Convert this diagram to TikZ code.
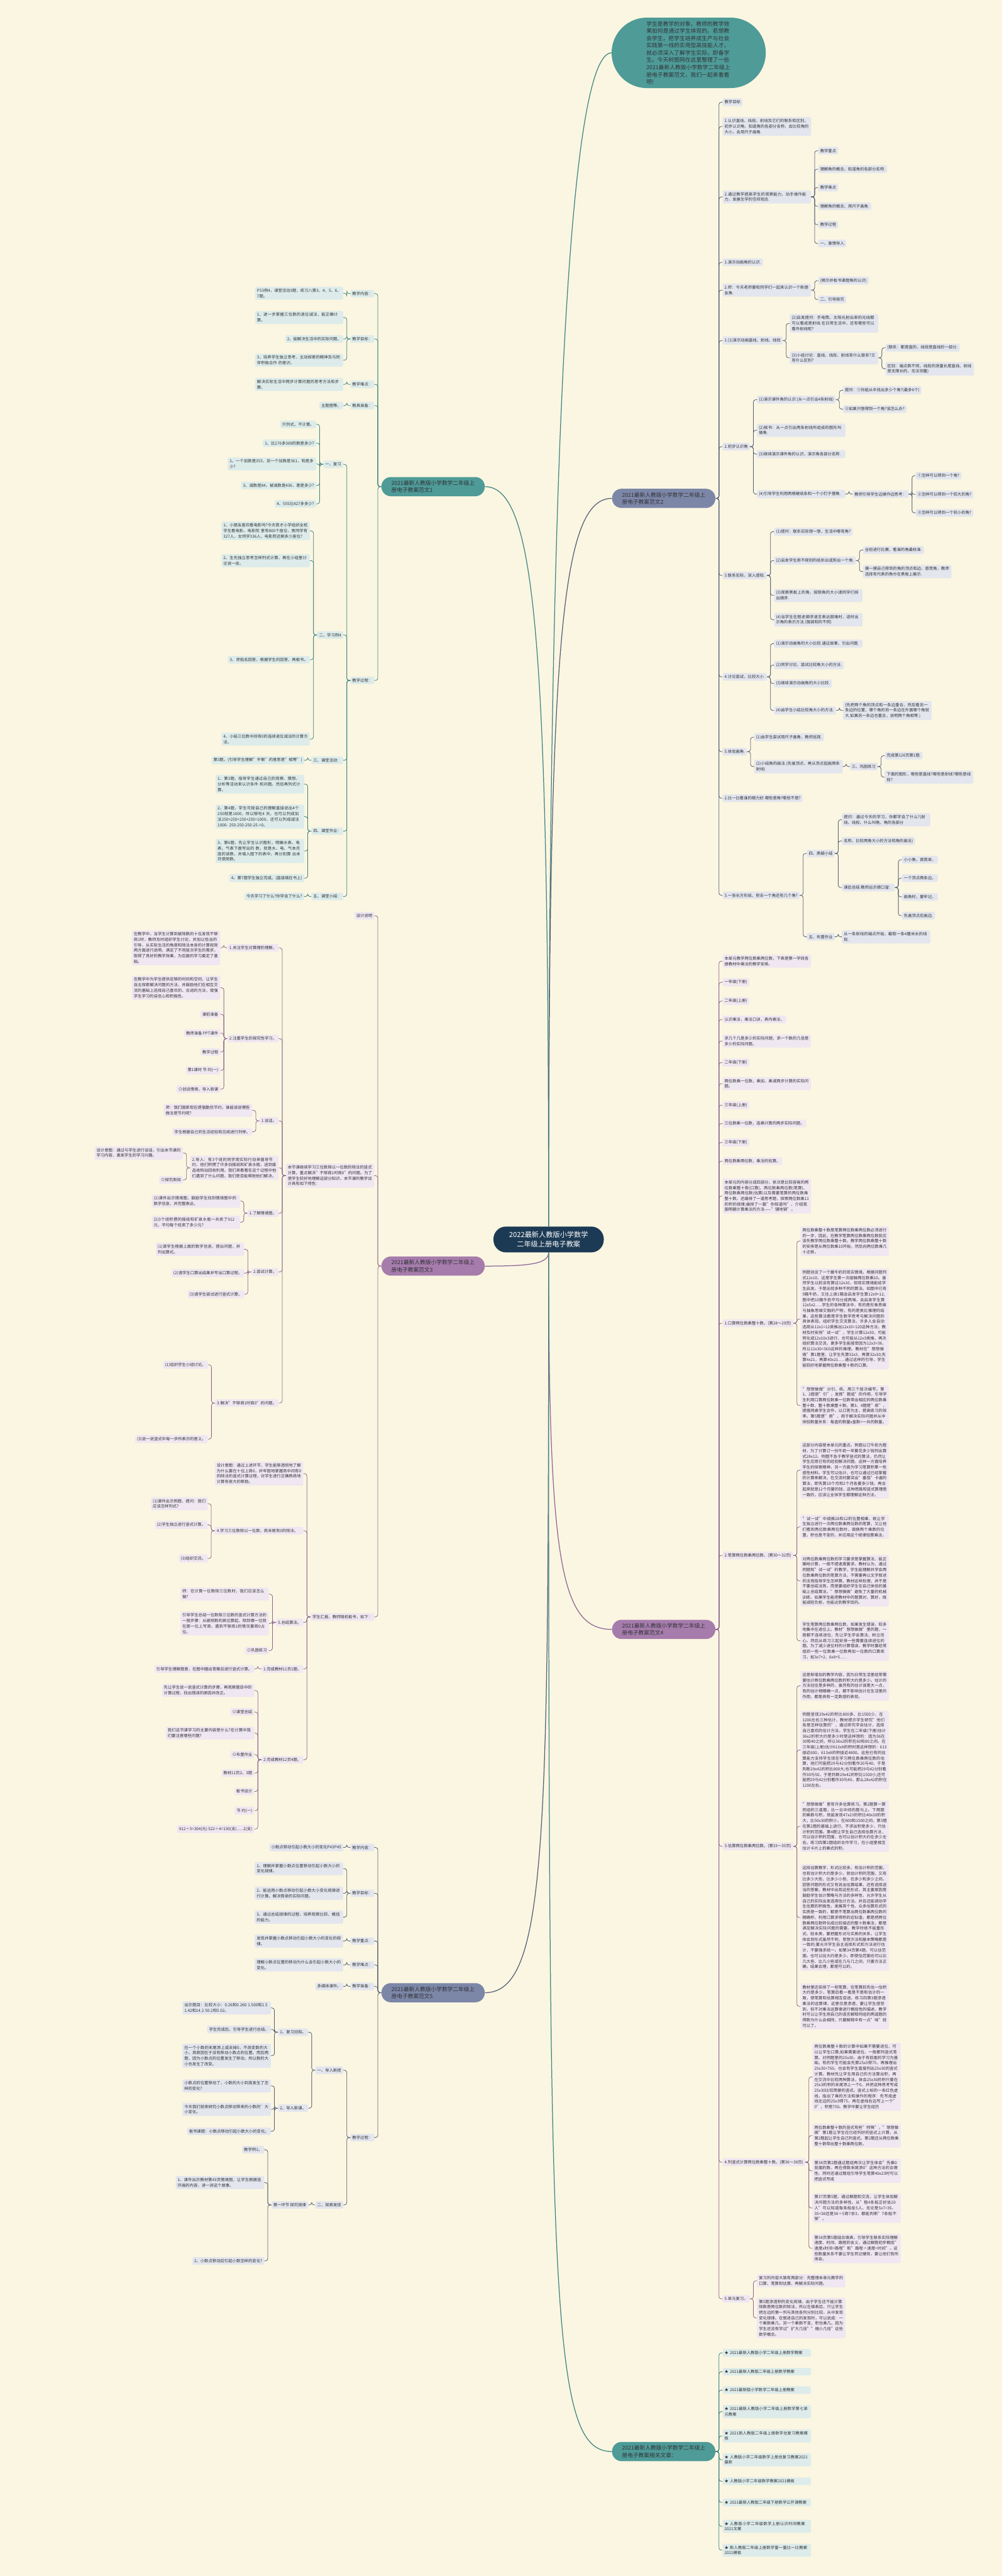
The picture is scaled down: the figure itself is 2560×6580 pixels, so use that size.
\documentclass[tikz,border=0pt]{standalone}
\usepackage{fontspec}
\setmainfont{Noto Sans CJK SC}
\usetikzlibrary{calc}
\XeTeXlinebreaklocale "zh"
\XeTeXlinebreakskip=0pt plus 1pt
\definecolor{bg}{RGB}{251,246,225}
\definecolor{cnav}{RGB}{28,58,84}
\definecolor{tealF}{RGB}{78,155,152}
\definecolor{tealL}{RGB}{221,236,234}
\definecolor{tealC}{RGB}{62,132,130}
\definecolor{slateF}{RGB}{124,135,168}
\definecolor{slateL}{RGB}{227,230,238}
\definecolor{slateC}{RGB}{84,94,118}
\definecolor{purF}{RGB}{166,124,172}
\definecolor{purL}{RGB}{239,231,241}
\definecolor{purC}{RGB}{140,102,148}
\definecolor{txt}{RGB}{50,50,55}
\newcommand\lfnt{\fontsize{10.2pt}{14pt}\selectfont}
\newcommand\addR[6]{\node[leaf#1,anchor=west,#2] (#4) at ($(#3.east|-0,#5)+(18,0)$) {#6};
  \draw[line#1] (#3.east) -- ++(9,0) |- (#4.west);}
\newcommand\addL[6]{\node[leaf#1,anchor=east,#2] (#4) at ($(#3.west|-0,#5)+(-18,0)$) {#6};
  \draw[line#1] (#3.west) -- ++(-9,0) |- (#4.east);}
\begin{document}
\begin{tikzpicture}[x=1pt,y=-1pt,
  leafbase/.style={rounded corners=4pt,inner xsep=5pt,inner ysep=5pt,align=left,font=\lfnt,text=txt},
  leafT/.style={leafbase,fill=tealL},
  leafS/.style={leafbase,fill=slateL},
  leafP/.style={leafbase,fill=purL},
  lineT/.style={draw=tealC,line width=1.3pt,rounded corners=6pt},
  lineS/.style={draw=slateC,line width=1.3pt,rounded corners=6pt},
  lineP/.style={draw=purC,line width=1.3pt,rounded corners=6pt},
  mainT/.style={draw=tealC,line width=2pt},
  mainS/.style={draw=slateC,line width=2pt},
  mainP/.style={draw=purC,line width=2pt},
  brbase/.style={rounded corners=24pt,minimum height=49pt,minimum width=264pt,inner xsep=25pt,align=left,font=\fontsize{14pt}{18pt}\selectfont,text=txt},
  branchT/.style={brbase,fill=tealF},
  branchS/.style={brbase,fill=slateF},
  branchP/.style={brbase,fill=purF}]
\fill[bg] (0,0) rectangle (2560,6580);
\useasboundingbox (0,0) rectangle (2560,6580);

% centre and intro
\node[fill=cnav,text=white,rounded corners=32pt,minimum width=282pt,minimum height=66pt,align=center,font=\fontsize{18pt}{23pt}\selectfont] (c) at (1402,3166) {2022最新人教版小学数学\\二年级上册电子教案};
\node[fill=tealF,text=txt,rounded corners=90pt,minimum height=180pt,inner xsep=89pt,text width=216pt,align=left,font=\fontsize{14pt}{18.5pt}\selectfont] (intro) at (1760,135) {学生是教学的对象，教师的教学效果如何是通过学生体现的。若想教会学生，把学生培养成生产与社会实践第一线的实用型高技能人才，就必须深入了解学生实际，即备学生。今天树图网在这里整理了一些2021最新人教版小学数学二年级上册电子教案范文，我们一起来看看吧!};

% branches
\node[branchT,anchor=east] (b1) at (1239,1243) {2021最新人教版小学数学二年级上\\册电子教案范文1};
\node[branchS,anchor=west] (b2) at (1564,1273) {2021最新人教版小学数学二年级上\\册电子教案范文2};
\node[branchP,anchor=east] (b3) at (1239,3234) {2021最新人教版小学数学二年级上\\册电子教案范文3};
\node[branchP,anchor=west] (b4) at (1564,4162) {2021最新人教版小学数学二年级上\\册电子教案范文4};
\node[branchS,anchor=east] (b5) at (1239,5090) {2021最新人教版小学数学二年级上\\册电子教案范文5};
\node[branchT,anchor=west] (r) at (1564,6262) {2021最新人教版小学数学二年级上\\册电子教案相关文章：};

\draw[mainT] (c.north) .. controls +(0,-2300) and +(-90,0) .. (intro.west);
\draw[mainS] (c.north) .. controls +(0,-1500) and +(-130,0) .. (b2.west);
\draw[mainT] (c.north) .. controls +(0,-1500) and +(130,0) .. (b1.east);
\draw[mainP] (c.south) .. controls +(0,30) and +(110,0) .. (b3.east);
\draw[mainP] (c.south) .. controls +(0,800) and +(-130,0) .. (b4.west);
\draw[mainS] (c.south) .. controls +(0,1500) and +(160,0) .. (b5.east);
\draw[mainT] (c.south) .. controls +(0,2700) and +(-160,0) .. (r.west);

% ---------- branch 2 ----------
\addR{S}{}{b2}{b2a}{261}{教学目标}
\addR{S}{text width=216pt}{b2}{b2b}{323}{1.认识直线、线段、射线及它们的联系和区别、初步认识角，知道角的各部分名称，会比较角的大小，会用尺子画角.}
\addR{S}{text width=216pt}{b2}{b2c}{503}{2.通过教学提高学生的观察能力、动手操作能力，发展生学的空间观念.}
\addR{S}{}{b2c}{b2c1}{385}{教学重点}
\addR{S}{}{b2c}{b2c2}{432}{理解角的概念，知道角的各部分名称.}
\addR{S}{}{b2c}{b2c3}{479}{教学难点}
\addR{S}{}{b2c}{b2c4}{527}{理解角的概念、用尺子画角.}
\addR{S}{}{b2c}{b2c5}{574}{教学过程}
\addR{S}{}{b2c}{b2c6}{622}{一、激情导入}
\addR{S}{}{b2}{b2d}{670}{1.演示动画角的认识.}
\addR{S}{text width=216pt}{b2}{b2e}{741}{2.师：今天老师要和同学们一起来认识一个新朋友角.}
\addR{S}{}{b2e}{b2e1}{717}{(揭示并板书课题角的认识)}
\addR{S}{}{b2e}{b2e2}{765}{二、引导探究}
\addR{S}{}{b2}{b2f}{870}{1.(1)演示动画直线、射线、线段}
\addR{S}{text width=216pt}{b2f}{b2f1}{826}{(2)启发提问：手电筒、太阳光射出来的光线都可以看成是射线.在日常生活中，还有哪些可以看作射线呢?}
\addR{S}{text width=216pt}{b2f}{b2f2}{914}{(3)小组讨论：直线、线段、射线有什么联系?又有什么区别?}
\addR{S}{}{b2f2}{b2f2a}{888}{(联系：都是直的，线段是直线的一部分.}
\addR{S}{text width=216pt}{b2f2}{b2f2b}{942}{区别：端点数不同，线段的测量长度直线、射线是无限长的，无法测量)}
\addR{S}{}{b2}{b2g}{1141}{2.初步认识角}
\addR{S}{}{b2g}{b2g1}{1021}{(1)演示课件角的认识.(从一点引出4条射线)}
\addR{S}{}{b2g1}{b2g1a}{997}{提问：①你能从中找出多少个角?(最多6个)}
\addR{S}{}{b2g1}{b2g1b}{1045}{②如果只想得到一个角?该怎么办?}
\addR{S}{text width=216pt}{b2g}{b2g2}{1099}{(2)板书：从一点引出两条射线所组成的图形叫做角.}
\addR{S}{text width=216pt}{b2g}{b2g3}{1160}{(3)继续演示课件角的认识，演示角各部分名称.}
\addR{S}{text width=216pt}{b2g}{b2g4}{1262}{(4)引导学生利用两根硬纸条和一个小钉子摆角.}
\addR{S}{}{b2g4}{b2g4a}{1262}{教师引导学生边操作边思考：}
\addR{S}{}{b2g4a}{b2g4a1}{1215}{①怎样可以得到一个角?}
\addR{S}{}{b2g4a}{b2g4a2}{1263}{②怎样可以得到一个较大的角?}
\addR{S}{}{b2g4a}{b2g4a3}{1310}{③怎样可以得到一个较小的角?}
\addR{S}{}{b2}{b2h}{1470}{3.联系实际，深入感知.}
\addR{S}{}{b2h}{b2h1}{1358}{(1)提问：联系实际想一想，生活中哪有角?}
\addR{S}{}{b2h}{b2h2}{1432}{(2)启发学生用不规则的纸折出或剪出一个角.}
\addR{S}{}{b2h2}{b2h2a}{1405}{全班进行比赛，看谁的角最标准.}
\addR{S}{text width=216pt}{b2h2}{b2h2b}{1460}{摸一摸自己得到的角的顶点和边、感受角，教师选择有代表的角巾在黑板上展示.}
\addR{S}{text width=216pt}{b2h}{b2h3}{1521}{(3)观察黑板上的角，按照角的大小请同学们排出顺序.}
\addR{S}{text width=216pt}{b2h}{b2h4}{1583}{(4)当学生在叙述顺序语言表达困难时，适时出示角的表示方法.(强调和的不同)}
\addR{S}{}{b2}{b2i}{1729}{4.讨论尝试，比较大小.}
\addR{S}{text width=216pt}{b2i}{b2i1}{1644}{(1)演示动画角的大小比较.通过故事，引出问题.}
\addR{S}{}{b2i}{b2i2}{1699}{(2)同学讨论、尝试比较角大小的方法.}
\addR{S}{}{b2i}{b2i3}{1746}{(3)继续演示动画角的大小比较.}
\addR{S}{}{b2i}{b2i4}{1815}{(4)由学生小结比较角大小的方法.}
\addR{S}{text width=216pt}{b2i4}{b2i4a}{1815}{(先把两个角的顶点和一条边重合，然后看另一条边的位置，哪个角的另一条边在外面哪个角就大.如果另一条边也重合，说明两个角相等.)}
\addR{S}{}{b2}{b2j}{1920}{5.体验画角.}
\addR{S}{}{b2j}{b2j1}{1883}{(1)由学生尝试用尺子画角，教师巡视.}
\addR{S}{text width=216pt}{b2j}{b2j2}{1958}{(2)小结角的画法.(先画顶点，再从顶点起画两条射线)}
\addR{S}{}{b2j2}{b2j2a}{1958}{三、巩固练习}
\addR{S}{}{b2j2a}{b2j2a1}{1930}{完成第126页第1题.}
\addR{S}{text width=216pt}{b2j2a}{b2j2a2}{1985}{下面的图形，哪些是直线?哪些是射线?哪些是线段?}
\addR{S}{}{b2}{b2k}{2039}{2.比一比看谁的眼力好.哪些是角?哪些不是?}
\addR{S}{}{b2}{b2l}{2287}{3.一张长方形纸、剪去一个角还有几个角?}
\addR{S}{}{b2l}{b2l1}{2180}{四、质疑小结}
\addR{S}{text width=216pt}{b2l1}{b2l1a}{2094}{提问：通过今天的学习，你都学会了什么?(射线、线段、什么叫角，角的各部分}
\addR{S}{}{b2l1}{b2l1b}{2148}{名称、比较两角大小的方法和角的画法)}
\addR{S}{}{b2l1}{b2l1c}{2267}{课后总结.教师出示顺口溜：}
\addR{S}{}{b2l1c}{b2l1c1}{2196}{小小角，真简单，}
\addR{S}{}{b2l1c}{b2l1c2}{2243}{一个顶点两条边，}
\addR{S}{}{b2l1c}{b2l1c3}{2291}{画角时，要牢记，}
\addR{S}{}{b2l1c}{b2l1c4}{2339}{先画顶点后画边.}
\addR{S}{}{b2l}{b2l2}{2393}{五、布置作业}
\addR{S}{text width=216pt}{b2l2}{b2l2a}{2393}{从一条射线的端点开始，截取一条4厘米长的线段.}

% ---------- branch 4 ----------
\addR{P}{text width=216pt}{b4}{b4a}{2455}{本单元教学两位数乘两位数，下表是第一学段各册教材中乘法的教学安排。}
\addR{P}{}{b4}{b4b}{2509}{一年级(下册)}
\addR{P}{}{b4}{b4c}{2557}{二年级(上册)}
\addR{P}{}{b4}{b4d}{2604}{认识乘法，乘法口诀，表内乘法。}
\addR{P}{text width=216pt}{b4}{b4e}{2659}{求几个几是多少的实际问题，求一个数的几倍是多少的实际问题。}
\addR{P}{}{b4}{b4f}{2714}{二年级(下册)}
\addR{P}{text width=216pt}{b4}{b4g}{2768}{两位数乘一位数，乘加、乘减两步计算的实际问题。}
\addR{P}{}{b4}{b4h}{2823}{三年级(上册)}
\addR{P}{}{b4}{b4i}{2870}{三位数乘一位数，连乘计算的两步实际问题。}
\addR{P}{}{b4}{b4j}{2918}{三年级(下册)}
\addR{P}{}{b4}{b4k}{2966}{两位数乘两位数，乘法的验算。}
\addR{P}{text width=216pt}{b4}{b4l}{3055}{本单元的内容分成四部分，依次是比较容易的两位数乘整十数(口算)、两位数乘两位数(笔算)、两位数乘两位数(估算)以及需要笔算的两位数乘整十数。还编排了一道思考题，探索两位数乘11的积的规律;编排了一篇"你知道吗"，介绍我国明朝计算乘法的方法——"铺地锦"。}
\addR{P}{}{b4}{b4m}{3380}{1.口算两位数乘整十数。(第28～29页)}
\addR{P}{text width=216pt}{b4m}{b4m1}{3170}{两位数乘整十数是笔算两位数乘两位数必须进行的一步，因此，在教学笔算两位数乘两位数前应该先教学两位数乘整十数。教学两位数乘整十数的安排是从两位数乘10开始，然后向两位数乘几十迁移。}
\addR{P}{text width=216pt}{b4m}{b4m2}{3369}{例题创设了一个搬牛奶的现实情境，根据问题列式12x10，这是学生第一次接触两位数乘10。虽然学生以前没有算过12x10，但现实情境能给学生启发，于是出现多种不同的算法。如图中已有9箱牛奶，又往上放1箱会启发学生算12x9+12;图中把10箱牛奶平均分成两堆，会启发学生算12x5x2......学生的各种算法中，有的是形象思维与抽象思维交融的产物，有的是类比推理的结果，这些算法都是学生数学思考与解决问题的具体表现。组织学生交流算法，许多人会自动选用从12x1=12类推出12x10=120这种方法。教材及时安排"试一试"，学生计算12x30，可能转化成12x10x3进行，也可能从12x3类推，再次组织算法交流，更多学生能接受因为12x3=36，所以12x30=360这样的推理。教材在"想想做做"第1题里，让学生先算32x3，再算32x30;先算4x21，再算40x21......通过这样的引导，学生能较好地掌握两位数乘整十数的口算。}
\addR{P}{text width=216pt}{b4m}{b4m3}{3590}{"想想做做"分引、练、用三个层次编写。第1、2题是"引"，发挥"题组"的作用，引导学生利用口算两位数乘一位数带出相应的两位数乘整十数、整十数乘整十数。第3、4题是"练"，提倡同桌学生合作，以口答为主，提高练习的效率。第5题是"用"，用于解决实际问题并从中体验数量关系：每盒的数量x盒数=一共的数量。}
\addR{P}{}{b4}{b4n}{3973}{2.笔算两位数乘两位数。(第30～32页)}
\addR{P}{text width=216pt}{b4n}{b4n1}{3755}{这部分内容是本单元的重点。例题以订牛奶为题材，为了计算订一份牛奶一年要花多少钱列出算式28x12。例题不急于教学竖式的算法，仍然让学生应用已有的经验解决问题。这样一方面培养学生的探索精神，另一方面为学习笔算积累一些感性材料。学生可以估计，也可以通过已经掌握的计算来解决。在交流时要突出"番茄"卡通的算法，即先算10个月和2个月各要多少钱，再合起来就是12个月要的钱，这种思路和竖式算理是一致的，应该让全体学生都理解这种方法。}
\addR{P}{text width=216pt}{b4n}{b4n2}{3900}{"试一试"中调换28和12的位置相乘，既让学生独立进行一次两位数乘两位数的笔算，又让他们看到两位数乘两位数时，调换两个乘数的位置，积也是不变的，并应用这个规律验算乘法。}
\addR{P}{text width=216pt}{b4n}{b4n3}{4038}{对两位数乘两位数的学习要求是掌握算法，能正确地计算，一般不提速度要求。教材认为，通过例题和"试一试"的教学，学生能理解并学会两位数乘两位数的笔算方法，不需要再以文字叙述的法则指导学生怎样算。教材这样处理，并不是不要总结法则，而是要组织学生在自己体验的基础上总结算法。"想想做做"避免了大量的机械训练，如果学生能把教材中的题算对、算好，既能减轻负担，也能达到教学目的。}
\addR{P}{text width=216pt}{b4n}{b4n4}{4191}{学生笔算两位数乘两位数，如果发生错误，较多地集中在进位上。教材"想想做做"里的题，一般都不连续进位，先让学生学会算法，树立信心。然后从练习三起安排一些需要连续进位的题。为了减少进位时的计算错误，教学时要经常组织一些一位数乘一位数再加一位数的口算练习，如3x7+2、6x8+5......}
\addR{P}{}{b4}{b4o}{4716}{3.估算两位数乘两位数。(第33～35页)}
\addR{P}{text width=216pt}{b4o}{b4o1}{4306}{这是新增加的教学内容，因为日常生活里经常需要估计两位数乘两位数的积大约是多少。估计的方法往往是多样的，虽然有的估计误差大一点，有的估计稍精确一点，都不影响估计在生活里的作用，都是具有一定数感的表现。}
\addR{P}{text width=216pt}{b4o}{b4o2}{4470}{例题呈现29x42的积比800多、比1500少、在1200左右三种估计，教材提示学生研究"他们各是怎样估算的"，通过研究学会估计，选择自己喜欢的估计方法。学生在二年级(下册)估计36x2的积大约是多少时是这样想的：因为36在30和40之间，所以36x2的积在60和80之间。在三年级(上册)估计613x8的积时是这样想的：613接近600，613x8的积接近4800。这些已有的估算能力支持学生现在学习两位数乘两位数的估算，他们可能把29与42分别看作20与40，于是判断29x42的积比800大;也可能把29与42分别看作30与50，于是判断29x42的积比1500小;还可能把29与42分别看作30与40，那么28x42的积在1200左右。}
\addR{P}{text width=216pt}{b4o}{b4o3}{4665}{"想想做做"里有许多估算练习。第2题算一算同组的三道题，比一比中间的题与上、下两题的乘数与积，就能发现47x23的积比40x20的积大，比50x30的积小，在800和1500之间。第3题在第2题的基础上进行，不求出积是多少，只估计积的范围。第4题让学生自己选择估算方法，可以估计积的范围，也可以估计积大约在多少左右。练习四第2题组织合作学习，在小组里相互估计卡片上的乘式的积。}
\addR{P}{text width=216pt}{b4o}{b4o4}{4898}{这段估算教学，形式比较多。有估计积的范围，也有估计积大约是多少。就估计积的范围，又有比多少大些、比多少小些、在多少和多少之间。回答问题的形式又有说出估算结果，还有选择适当的答案。教材中出现这些形式，其主要原因是鼓励学生估计策略与方法的多样性，允许学生从自己的实际出发选用估计方法。并且还能调动学生估算的积极性，发展其个性。众多估算形式的实质是一致的，都是不笔算出两位数乘两位数的精确积，利用口算求得积的近似值，都是把两位数乘两位数转化成比较接近的整十数乘法，都是满足解决实际问题的需要。教学时绝不能重形式、轻本质，要把握形式与实质的关系，让学生体会到形式虽然不同，思想方法和基本策略都是一致的;要允许学生自主选择形式和方法进行估计，不要强求统一。如第34页第4题，可以估范围，也可以估大约是多少。即使估范围也可以比几大些、比几小些或在几与几之间，只要方法正确，结果合理，都是可以的。}
\addR{P}{text width=216pt}{b4o}{b4o5}{5125}{教材里还安排了一些笔算，在笔算前先估一估积大约是多少，笔算后看一看是不是和估计的一致，使笔算和估算相互促进。练习四第3题渗透乘法的运算律，这里仅是渗透，要让学生感觉到，但不对乘法运算律进行概括性的描述。教学时可以让学生用自己的语言解释同组的两道题的得数为什么会相同，只要解释中有一点"味"就可以了。}
\addR{P}{}{b4}{b4p}{5523}{4.列竖式计算两位数乘整十数。(第36～38页)}
\addR{P}{text width=216pt}{b4p}{b4p1}{5305}{两位数乘整十数的计算中如果不需要进位，可以让学生口算;如果需要进位，一般都列竖式笔算。对例题里的25x30，由于有前面的学习为基础，有的学生可能会先算25x3得75，再推理出25x30=750。也会有学生直接列出25x30的竖式计算。教材先让学生用自己的方法算出积，再在交流中比较两种算法，体会25x30的积只要在25x3的积的末尾添上一个0，并把这种思考写成25x30比较简便的竖式。竖式上标的一条红色虚线，指出了乘的方法和操作的程序：先写成虚线左边的25x3得75，再在虚线右边写上一个"0"，积是750。教学中要让学生经历}
\addR{P}{text width=216pt}{b4p}{b4p2}{5455}{两位数乘整十数的竖式有些"特殊"，"想想做做"第1题让学生在已经列好的竖式上计算，从第2题起让学生自己列竖式。第2题还从两位数乘整十数带出整十数乘两位数。}
\addR{P}{text width=216pt}{b4p}{b4p3}{5545}{第38页第2题通过题组再次让学生体会"先乘0前面的数，再在得数末尾添0"这种方法的合理性。同时还通过题组引导学生笔算40x23时可以把竖式写成}
\addR{P}{text width=216pt}{b4p}{b4p4}{5640}{第37页第5题，通过解题和交流，让学生体验解决问题方法的多样性。从"租4条船正好坐20人"可以知道每条船坐5人，无论是5x7=35、35<38还是38÷5商7余3，都能判断"7条船不够"。}
\addR{P}{text width=216pt}{b4p}{b4p5}{5743}{第38页第5题结合填表，引导学生联系实际理解速度、时间、路程的含义，通过解题初步概括"速度x时间=路程"和"路程÷速度=时间"。这些数量关系不要让学生死记硬背，要让他们有所体会。}
\addR{P}{}{b4}{b4q}{5872}{5.单元复习。}
\addR{P}{text width=216pt}{b4q}{b4q1}{5826}{复习的内容大致有两部分：先整理本单元教学的口算、笔算和估算，再解决实际问题。}
\addR{P}{text width=216pt}{b4q}{b4q2}{5921}{第5题渗透积的变化规律。由于学生还不能计算除数是两位数的除法，所以在填表后，只让学生把左边的第一列与其他各列分别比较，从中发现变化规律。在叙述自己的发现时，可以说成：一个乘数乘几，另一个乘数不变，积也乘几。因为学生还没有学过"扩大几倍""缩小几倍"这些数学概念。}

% ---------- related ----------
\addR{T}{text width=216pt}{r}{r1}{6010}{★ 2021最新人教版小学二年级上册数学教案}
\addR{T}{text width=216pt}{r}{r2}{6058}{★ 2021最新人教版二年级上册数学教案}
\addR{T}{text width=216pt}{r}{r3}{6105}{★ 2021最新版小学数学二年级上册教案}
\addR{T}{text width=216pt}{r}{r4}{6160}{★ 2021最新人教版小学二年级上册数学第七单元教案}
\addR{T}{text width=216pt}{r}{r5}{6222}{★ 2021新人教版二年级上册数学总复习教案模板}
\addR{T}{text width=216pt}{r}{r6}{6283}{★ 人教版小学二年级数学上册总复习教案2021最新}
\addR{T}{text width=216pt}{r}{r7}{6338}{★ 人教版小学二年级数学教案2021模板}
\addR{T}{text width=216pt}{r}{r8}{6392}{★ 2021最新人教版二年级下册数学公开课教案}
\addR{T}{text width=216pt}{r}{r9}{6453}{★ 人教版小学二年级数学上册认识时间教案2021文案}
\addR{T}{text width=216pt}{r}{r10}{6514}{★ 新人教版二年级上册数学量一量比一比教案2021模板}

% ---------- branch 1 ----------
\addL{T}{}{b1}{b1a}{750}{教学内容：}
\addL{T}{text width=215pt}{b1a}{b1a1}{749}{P53例4，课堂活动3题，练习八第3、4、5、6、7题。}
\addL{T}{}{b1}{b1b}{866}{教学目标：}
\addL{T}{text width=215pt}{b1b}{b1b1}{811}{1、进一步掌握三位数的退位减法，能正确计算。}
\addL{T}{}{b1b}{b1b2}{866}{2、能解决生活中的实际问题。}
\addL{T}{text width=215pt}{b1b}{b1b3}{920}{3、培养学生独立思考、主动探索的精神及与同伴积极合作 的意识。}
\addL{T}{}{b1}{b1c}{982}{教学难点：}
\addL{T}{text width=215pt}{b1c}{b1c1}{982}{解决实际生活中两步计算问题的思考方法和步骤。}
\addL{T}{}{b1}{b1d}{1036}{教具准备：}
\addL{T}{}{b1d}{b1d1}{1036}{主题图等。}
\addL{T}{}{b1}{b1e}{1738}{教学过程：}
\addL{T}{}{b1e}{b1e1}{1186}{一、复习}
\addL{T}{}{b1e1}{b1e1a}{1084}{只列式，不计算。}
\addL{T}{}{b1e1}{b1e1b}{1132}{1、比276多308的数是多少?}
\addL{T}{text width=216pt}{b1e1}{b1e1c}{1185}{2、一个加数是355，另一个加数是361，和是多少?}
\addL{T}{}{b1e1}{b1e1d}{1240}{3、减数是84，被减数是436，差是多少?}
\addL{T}{}{b1e1}{b1e1e}{1287}{4、555比427多多少?}
\addL{T}{}{b1e}{b1e2}{1622}{二、学习例4}
\addL{T}{text width=216pt}{b1e2}{b1e2a}{1356}{1、小朋友喜欢看电影吗?今天育才小学组织全校学生看电影。电影院 里有800个座位，男同学有327人，女同学336人，电影院还剩多少座位?}
\addL{T}{text width=216pt}{b1e2}{b1e2b}{1432}{2、生先独立思考怎样列式计算，再在小组里讨论说一说。}
\addL{T}{}{b1e2}{b1e2c}{1685}{3、师指名回答，根据学生的回答，再板书。}
\addL{T}{text width=216pt}{b1e2}{b1e2d}{1888}{4、小结三位数中间有0的连续退位减法的计算方法。}
\addL{T}{}{b1e}{b1e3}{1942}{三、课堂活动：}
\addL{T}{}{b1e3}{b1e3a}{1942}{第3题。(引导学生理解"平衡"的意思是"相等")}
\addL{T}{}{b1e}{b1e4}{2123}{四、课堂作业：}
\addL{T}{text width=216pt}{b1e4}{b1e4a}{2003}{1、第3题，指导学生通过自己的观察、猜想、分析等活动来认识条件 和问题。然后再列式计算。}
\addL{T}{text width=216pt}{b1e4}{b1e4b}{2086}{2、第4题，学生可按自己的理解直接说出4个250就是1000，所以够吃4 天。也可以列成加法250+250+250+250=1000，还可以列成减法1000- 250-250-250-25-=0。}
\addL{T}{text width=216pt}{b1e4}{b1e4c}{2174}{3、第6题，先让学生认识图形，明确水表、电表、气表下面写出的 数，就是水、电、气本月底的读数，并填入图下的表中，再分别算 出本月使用数。}
\addL{T}{}{b1e4}{b1e4d}{2243}{4、第7题学生独立完成。(直接填在书上)}
\addL{T}{}{b1e}{b1e5}{2290}{五、课堂小结：}
\addL{T}{}{b1e5}{b1e5a}{2290}{今天学习了什么?你学会了什么?}

% ---------- branch 3 ----------
\addL{P}{}{b3}{b3a}{2339}{设计说明}
\addL{P}{text width=216pt}{b3}{b3b}{3003}{本节课继续学习三位数除以一位数的除法的竖式计算，重点解决"不够商1时商0"的问题。为了使学生较好地理解这部分知识，本节课的教学设计具有如下特色：}
\addL{P}{}{b3b}{b3b1}{2421}{1.关注学生对算理的理解。}
\addL{P}{text width=216pt}{b3b1}{b3b1a}{2421}{在教学中，当学生计算到被除数的十位发现不够商1时，教师及时组织学生讨论，并加以恰当的引导，从实际生活的角度和除法本身的计算规则两方面进行说明，满足了不同层次学生的需求，取得了良好的教学效果，为后面的学习奠定了基础。}
\addL{P}{}{b3b}{b3b2}{2653}{2.注重学生的探究性学习。}
\addL{P}{text width=216pt}{b3b2}{b3b2a}{2523}{在教学中为学生提供足够的时间和空间，让学生自主探索解决问题的方法，并鼓励他们在相互交流的基础上选择自己喜欢的、合适的方法，增强学生学习的自信心和积极性。}
\addL{P}{}{b3b2}{b3b2b}{2591}{课前准备}
\addL{P}{}{b3b2}{b3b2c}{2639}{教师准备 PPT课件}
\addL{P}{}{b3b2}{b3b2d}{2687}{教学过程}
\addL{P}{}{b3b2}{b3b2e}{2734}{第1课时 节 约(一)}
\addL{P}{}{b3b2}{b3b2f}{2782}{⊙创设情境，导入新课}
\addL{P}{}{b3b}{b3b3}{2863}{1.谈话。}
\addL{P}{text width=216pt}{b3b3}{b3b3a}{2836}{师：我们国家现在提倡勤俭节约，谁能说说哪些做法是节约呢?}
\addL{P}{}{b3b3}{b3b3b}{2891}{学生根据自己的生活经验和见闻进行列举。}
\addL{P}{text width=216pt}{b3b}{b3b4}{2983}{2.导入：有3个班的同学用实际行动来倡导节约，他们积攒了许多旧报纸和矿泉水瓶，送到废品收购站回收利用。我们来看看在这个过程中他们遇到了什么问题，我们是否能帮助他们解决。}
\addL{P}{text width=216pt}{b3b4}{b3b4a}{2945}{设计意图：通过与学生进行谈话，引出本节课的学习内容，激发学生的学习兴趣。}
\addL{P}{}{b3b4}{b3b4b}{3014}{⊙探究新知}
\addL{P}{}{b3b}{b3b5}{3099}{1.了解情境图。}
\addL{P}{text width=216pt}{b3b5}{b3b5a}{3068}{(1)课件出示情境图，鼓励学生找到情境图中的数学信息，并完整表达。}
\addL{P}{text width=216pt}{b3b5}{b3b5b}{3122}{(2)3个班积攒的报纸和矿泉水瓶一共卖了912元，平均每个班卖了多少元?}
\addL{P}{}{b3b}{b3b6}{3249}{2.尝试计算。}
\addL{P}{text width=216pt}{b3b6}{b3b6a}{3191}{(1)请学生根据上面的数学信息，提出问题，并列出算式。}
\addL{P}{}{b3b6}{b3b6b}{3252}{(2)请学生口算出结果并写出口算过程。}
\addL{P}{}{b3b6}{b3b6c}{3306}{(3)请学生尝试进行竖式计算。}
\addL{P}{}{b3b}{b3b7}{3584}{3.解决"不够商1时商0"的问题。}
\addL{P}{}{b3b7}{b3b7a}{3486}{(1)组织学生小组讨论。}
\addL{P}{}{b3b7}{b3b7c}{3676}{(3)说一说竖式中每一步所表示的意义。}
\addL{P}{}{b3}{b3c}{4130}{学生汇报，教师随机板书，如下：}
\addL{P}{text width=216pt}{b3c}{b3c1}{3764}{设计意图：通过上述环节，学生能够透彻地了解为什么要在十位上商0，并牢固地掌握商中间有0的除法的竖式计算过程，对学生进行正确熟练地计算有很大的帮助。}
\addL{P}{text width=216pt}{b3c}{b3c2}{3910}{4.学习三位数除以一位数，商末尾有0的除法。}
\addL{P}{}{b3c2}{b3c2a}{3841}{(1)课件出示例题，提问：我们\\应该怎样列式?}
\addL{P}{}{b3c2}{b3c2b}{3895}{(2)学生独立进行竖式计算。}
\addL{P}{}{b3c2}{b3c2c}{3981}{(3)组织交流。}
\addL{P}{}{b3c}{b3c3}{4144}{5.总结算法。}
\addL{P}{text width=216pt}{b3c3}{b3c3a}{4072}{师：在计算一位数除三位数时，我们应该怎么做?}
\addL{P}{text width=216pt}{b3c3}{b3c3b}{4147}{引导学生总结一位数除三位数的竖式计算方法的一般步骤：从被除数的高位算起，除到哪一位就在那一位上写商，遇到不够商1的情况要商0占位。}
\addL{P}{}{b3c3}{b3c3c}{4216}{⊙巩固练习}
\addL{P}{}{b3c}{b3c4}{4263}{1.完成教材11页1题。}
\addL{P}{}{b3c4}{b3c4a}{4263}{引导学生理解题意，在图中圈出答案后进行竖式计算。}
\addL{P}{}{b3c}{b3c5}{4495}{2.完成教材12页4题。}
\addL{P}{text width=226pt}{b3c5}{b3c5a}{4318}{先让学生说一说竖式计算的步骤，再观察题目中的计算过程，找出错误的原因并改正。}
\addL{P}{}{b3c5}{b3c5b}{4373}{⊙课堂总结}
\addL{P}{text width=216pt}{b3c5}{b3c5c}{4427}{我们这节课学习的主要内容是什么?在计算中我们要注意哪些问题?}
\addL{P}{}{b3c5}{b3c5d}{4482}{⊙布置作业}
\addL{P}{}{b3c5}{b3c5e}{4529}{教材11页2、3题}
\addL{P}{}{b3c5}{b3c5f}{4576}{板书设计}
\addL{P}{}{b3c5}{b3c5g}{4625}{节 约(一)}
\addL{P}{}{b3c5}{b3c5h}{4672}{912÷3=304(元) 522÷4=130(支)......2(支)}

% ---------- branch 5 ----------
\addL{S}{}{b5}{b5a}{4719}{教学内容：}
\addL{S}{}{b5a}{b5a1}{4719}{小数点移动引起小数大小的变化P43P45}
\addL{S}{}{b5}{b5b}{4836}{教学目标：}
\addL{S}{text width=216pt}{b5b}{b5b1}{4773}{1、理解并掌握小数点位置移动引起小数大小的变化规律。}
\addL{S}{text width=216pt}{b5b}{b5b2}{4836}{2、能运用小数点移动引起小数大小变化规律进行计算。解决简单的实际问题。}
\addL{S}{text width=216pt}{b5b}{b5b3}{4897}{3、通过总结规律的过程，培养观察比较、概括的能力。}
\addL{S}{}{b5}{b5c}{4958}{教学重点：}
\addL{S}{text width=216pt}{b5c}{b5c1}{4958}{发现并掌握小数点移动引起小数大小的变化的规律。}
\addL{S}{}{b5}{b5d}{5019}{教学难点：}
\addL{S}{text width=216pt}{b5d}{b5d1}{5019}{理解小数点位置的移动为什么会引起小数大小的变化。}
\addL{S}{}{b5}{b5e}{5074}{教学准备：}
\addL{S}{}{b5e}{b5e1}{5074}{多媒体课件。}
\addL{S}{}{b5}{b5f}{5460}{教学过程：}
\addL{S}{}{b5f}{b5f1}{5288}{一、导入新授}
\addL{S}{}{b5f1}{b5f1a}{5191}{1、复习旧知。}
\addL{S}{text width=216pt}{b5f1a}{b5f1a1}{5129}{出示题目：比较大小：0.26和0.260 1.500和1.5 1.42和14.2 50.2和5.02。}
\addL{S}{}{b5f1a}{b5f1a2}{5184}{学生完成后，引导学生进行总结。}
\addL{S}{text width=216pt}{b5f1a}{b5f1a3}{5251}{在一个小数的末尾添上或去掉0，不改变数的大小，其原因在于没有移动小数点的位置。而后两题，因为小数点的位置发生了移动，所以数的大小也发生了改变。}
\addL{S}{}{b5f1}{b5f1b}{5385}{2、导入新课。}
\addL{S}{text width=216pt}{b5f1b}{b5f1b1}{5328}{小数点的位置移动了，小数的大小到底发生了怎样的变化?}
\addL{S}{text width=216pt}{b5f1b}{b5f1b2}{5388}{今天我们就来研究小数点移动带来的小数的'大小变化。}
\addL{S}{}{b5f1b}{b5f1b3}{5444}{板书课题：小数点移动引起小数大小的变化。}
\addL{S}{}{b5f}{b5f2}{5632}{二、探索发现}
\addL{S}{}{b5f2}{b5f2a}{5632}{第一环节 探究规律}
\addL{S}{}{b5f2a}{b5f2a1}{5491}{教学例1。}
\addL{S}{text width=216pt}{b5f2a}{b5f2a2}{5575}{1、课件出示教材第43页情境图，让学生根据连环画的内容，讲一讲这个故事。}
\addL{S}{}{b5f2a}{b5f2a3}{5775}{2、小数点移动后引起小数怎样的变化?}
\end{tikzpicture}
\end{document}
